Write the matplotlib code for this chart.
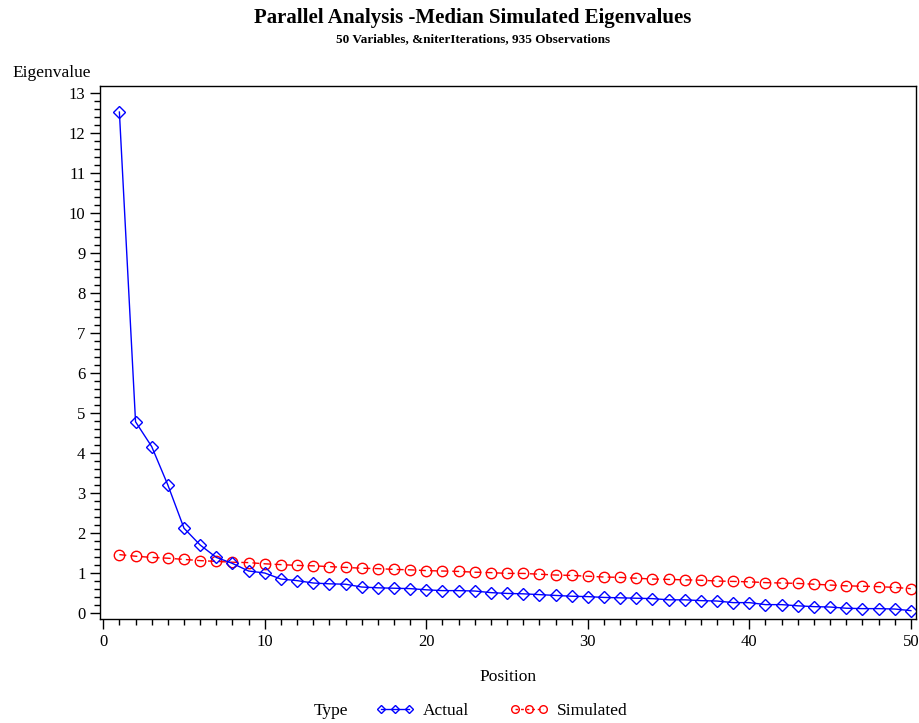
import numpy as np
import matplotlib.pyplot as plt
from matplotlib.lines import Line2D
from matplotlib.ticker import MultipleLocator

plt.rcParams['font.family'] = ['Liberation Serif', 'DejaVu Serif']

# Datos
position = np.arange(1, 51)
actual = [12.53, 4.79, 4.17, 3.21, 2.13, 1.71, 1.40, 1.25, 1.06, 1.01,
          0.86, 0.82, 0.76, 0.74, 0.73, 0.66, 0.64, 0.63, 0.62, 0.59,
          0.57, 0.57, 0.56, 0.52, 0.50, 0.49, 0.47, 0.45, 0.43, 0.42,
          0.40, 0.39, 0.38, 0.37, 0.34, 0.34, 0.32, 0.31, 0.27, 0.27,
          0.22, 0.22, 0.19, 0.17, 0.16, 0.13, 0.12, 0.12, 0.11, 0.07]
simulated = [1.47, 1.43, 1.40, 1.38, 1.35, 1.32, 1.30, 1.28, 1.27, 1.24,
             1.22, 1.20, 1.19, 1.17, 1.15, 1.13, 1.12, 1.10, 1.09, 1.07,
             1.06, 1.05, 1.03, 1.02, 1.00, 1.00, 0.98, 0.96, 0.95, 0.93,
             0.91, 0.90, 0.88, 0.86, 0.85, 0.84, 0.83, 0.81, 0.80, 0.79,
             0.77, 0.76, 0.75, 0.73, 0.71, 0.69, 0.68, 0.67, 0.65, 0.62]

fig = plt.figure(figsize=(9.2, 7.23), dpi=100)
ax = fig.add_axes([0.1087, 0.1438, 0.887, 0.7372])

ax.plot(position, simulated, color='red', lw=1, ls=(0, (5, 3)),
        marker='o', ms=7.5, mfc='none', mec='red', mew=1, label='Simulated')
ax.plot(position, actual, color='blue', lw=1,
        marker='D', ms=6, mfc='none', mec='blue', mew=1, label='Actual')

ax.set_xlim(-0.2, 50.32)
ax.set_ylim(-0.14, 13.18)
ax.xaxis.set_major_locator(MultipleLocator(10))
ax.xaxis.set_minor_locator(MultipleLocator(1))
ax.yaxis.set_major_locator(MultipleLocator(1))
ax.yaxis.set_minor_locator(MultipleLocator(0.2))
ax.tick_params(which='major', length=7, width=1, labelsize=12)
ax.tick_params(which='minor', length=4, width=1)
for s in ax.spines.values():
    s.set_linewidth(1)

fig.text(0.514, 0.975, 'Parallel Analysis -Median Simulated Eigenvalues',
         ha='center', va='center', fontsize=15, fontweight='bold')
fig.text(0.514, 0.946, '50 Variables, &niterIterations, 935 Observations',
         ha='center', va='center', fontsize=9.5, fontweight='bold')
fig.text(0.0565, 0.899, 'Eigenvalue', ha='center', va='center', fontsize=12.5)
fig.text(0.552, 0.064, 'Position', ha='center', va='center', fontsize=12.5)
fig.text(0.36, 0.016, 'Type', ha='center', va='center', fontsize=12.5)

h_act = Line2D([], [], color='blue', lw=1, marker='D', ms=4.5, mfc='none', mec='blue')
h_sim = Line2D([], [], color='red', lw=1, ls=(0, (2, 2)), marker='o', ms=5.5, mfc='none', mec='red')
fig.legend([h_act, h_sim], ['Actual', 'Simulated'], loc='center left',
           bbox_to_anchor=(0.409, 0.017), ncol=2, frameon=False, numpoints=3,
           handlelength=2.2, columnspacing=2.35, handletextpad=0.5, fontsize=12.5,
           borderpad=0, borderaxespad=0)

plt.savefig('out.png', dpi=100)
